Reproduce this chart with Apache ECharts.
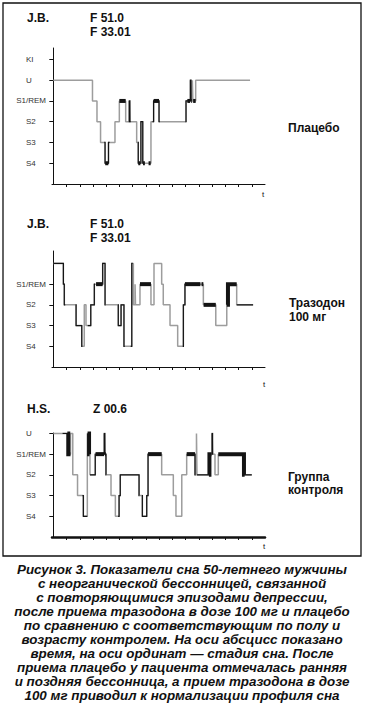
<!DOCTYPE html>
<html><head><meta charset="utf-8">
<script src="https://cdn.jsdelivr.net/npm/echarts@6/dist/echarts.min.js"></script>
<style>html,body{margin:0;padding:0;background:#fff}#c{width:365px;height:708px}</style>
</head><body><div id="c"></div>
<script>
// ---- axis labels / ticks ----
const stageLabels = ['', 'S4', 'S3', 'S2', 'S1/REM', 'U', 'KI'];
const xTicks = [1,2,3,4,5,6,7,8,9,10,11,12,13,14,15];
const p1YTicks = [1,2,3,4,5,6];
const p2YTicks = [1,2,3,4];
const p3YTicks = [1,2,3,4,5];

// ---- panel 1: J.B., placebo (stage transitions: time, stage) ----
const p1Times  = [0, 2.96, 3.30, 3.57, 3.91, 4.17, 4.66, 4.99, 5.47, 5.74, 5.79, 6.30, 6.42, 6.62, 6.76, 7.38, 7.58, 7.99, 10.03, 10.36, 10.41, 10.51, 10.55, 10.76];
const p1Stages = [5,    4,    3,    2,    1,    2,    3,    4,    3,    4,    3,    2,    1,    3,    1,    3,    4,    3,     4,     5,     4,     5,     4,     5];
const p1End = 14.87;
const p1ThickFrom = [3.92, 4.99, 6.42, 6.78, 7.20, 7.58, 10.13, 10.43, 10.57];
const p1ThickTo   = [4.16, 5.47, 6.58, 6.92, 7.36, 7.99, 10.34, 10.49, 10.76];
const p1BlackFrom = [3.85, 5.70, 6.38, 7.50, 9.98];
const p1BlackTo   = [4.25, 5.85, 6.80, 8.05, 10.45];

// ---- panel 2: J.B., trazodone 100 mg ----
const p2Times  = [0, 0.76, 0.83, 1.72, 2.15, 2.34, 2.47, 2.83, 3.10, 3.73, 3.91, 4.91, 5.12, 5.34, 5.93, 6.05, 6.18, 6.21, 6.55, 7.38, 7.61, 8.19, 8.31, 8.82, 9.40, 9.83, 9.95, 11.34, 12.28, 13.11, 13.20, 13.86];
const p2Stages = [5,    4,    3,    2,    1,    3,    2,    3,    4,    5,    3,    2,    3,    1,    5,    3,    4,    3,    4,    3,    5,    4,    3,    2,    1,    3,    4,     3,     2,     3,     4,     3];
const p2End = 15.1;
const p2ThickFrom = [3.23, 6.55, 9.95, 11.20, 11.36, 13.11];
const p2ThickTo   = [3.73, 7.38, 11.12, 11.34, 12.28, 13.86];
const p2BlackFrom = [0, 1.68, 2.60, 3.70, 4.88, 5.85, 9.78, 13.86];
const p2BlackTo   = [0.90, 2.20, 3.15, 3.95, 5.40, 6.00, 10.00, 15.10];

// ---- panel 3: H.S., control ----
const p3Times  = [0, 1.13, 1.30, 1.47, 1.83, 2.27, 2.57, 2.70, 2.77, 3.17, 3.85, 3.90, 3.98, 4.36, 4.69, 4.97, 5.06, 6.48, 6.73, 7.06, 7.16, 8.19, 9.07, 9.27, 9.71, 10.08, 10.71, 10.82, 10.86, 11.80, 12.00, 12.04, 12.22, 12.47, 14.41];
const p3Stages = [5,    4,    5,    3,    2,    1,    5,    4,    3,    4,    5,    4,    3,    2,    1,    2,    3,    2,    1,    2,    4,    3,    2,    1,    3,     4,     3,     5,     3,     4,     5,     4,     3,     4,     3];
const p3End = 15.0;
const p3ThickFrom = [1.06, 2.59, 3.19, 3.91, 7.16, 10.08, 11.76, 12.47];
const p3ThickTo   = [1.30, 2.74, 3.84, 3.97, 8.19, 10.71, 11.97, 14.46];
const p3BlackFrom = [0.70, 2.20, 2.77, 3.80, 4.90, 6.70, 10.60, 10.86, 11.97, 14.40];
const p3BlackTo   = [1.13, 2.57, 3.20, 4.00, 6.50, 7.20, 10.75, 11.80, 12.06, 15.00];

// ---- helpers: build step paths from the transitions ----
function stepPath(T, S, end) {
  const pts = [];
  for (let i = 0; i < T.length; i++) {
    const next = i + 1 < T.length ? T[i + 1] : end;
    pts.push([T[i], S[i]], [next, S[i]]);
  }
  return pts;
}
function stageAfter(T, S, t) {
  let s = S[0];
  for (let i = 0; i < T.length; i++) if (T[i] <= t) s = S[i];
  return s;
}
function stageBefore(T, S, t) {
  let s = S[0];
  for (let i = 0; i < T.length; i++) if (T[i] < t) s = S[i];
  return s;
}
// one polyline per interval, following the step path between a and b
function overlay(T, S, from, to) {
  const out = [];
  for (let k = 0; k < from.length; k++) {
    const a = from[k], b = to[k];
    const c = [[a, stageAfter(T, S, a)]];
    for (let i = 1; i < T.length; i++) {
      if (T[i] > a && T[i] < b) c.push([T[i], S[i - 1]], [T[i], S[i]]);
    }
    c.push([b, stageBefore(T, S, b)]);
    out.push({coords: c});
  }
  return out;
}

const GRAY = '#9d9d9d', BLACK = '#141414';
const panels = [
  {T: p1Times, S: p1Stages, end: p1End, tf: p1ThickFrom, tt: p1ThickTo, bf: p1BlackFrom, bt: p1BlackTo,
   top: 48, height: 136, ymax: 6.55, yticks: p1YTicks, xw: 1},
  {T: p2Times, S: p2Stages, end: p2End, tf: p2ThickFrom, tt: p2ThickTo, bf: p2BlackFrom, bt: p2BlackTo,
   top: 251, height: 116, ymax: 5.6, yticks: p2YTicks, xw: 1},
  {T: p3Times, S: p3Stages, end: p3End, tf: p3ThickFrom, tt: p3ThickTo, bf: p3BlackFrom, bt: p3BlackTo,
   top: 433, height: 104, ymax: 5.02, yticks: p3YTicks, xw: 2.5}
];

const grid = [], xAxis = [], yAxis = [], series = [];
panels.forEach((p, i) => {
  grid.push({left: 52, top: p.top, width: 213, height: p.height});
  xAxis.push({
    type: 'value', gridIndex: i, min: -0.1, max: 16,
    axisLine: {lineStyle: {color: '#111', width: p.xw}},
    axisTick: {show: true, length: 3, customValues: xTicks, lineStyle: {color: '#111'}},
    axisLabel: {show: false}, splitLine: {show: false}
  });
  yAxis.push({
    type: 'value', gridIndex: i, min: 0, max: p.ymax,
    axisLine: {show: true, lineStyle: {color: '#111', width: 1}},
    axisTick: {show: true, length: 4, customValues: p.yticks, lineStyle: {color: '#111'}},
    axisLabel: {
      show: true, customValues: p.yticks, margin: 6, align: 'right',
      formatter: v => { const l = stageLabels[v]; return l.length > 3 ? '{w|' + l + '}' : '{s|' + l + '}'; },
      rich: {
        s: {width: 20, align: 'left', fontSize: 8, fontFamily: '"Liberation Sans", Arial', color: '#333'},
        w: {fontSize: 8, fontFamily: '"Liberation Sans", Arial', color: '#333'}
      }
    },
    splitLine: {show: false}
  });
  series.push({type: 'line', xAxisIndex: i, yAxisIndex: i, symbol: 'none', silent: true, clip: false, animation: false,
    data: stepPath(p.T, p.S, p.end), lineStyle: {color: GRAY, width: 1.5}, z: 2});
  series.push({type: 'lines', coordinateSystem: 'cartesian2d', xAxisIndex: i, yAxisIndex: i, polyline: true, silent: true, animation: false,
    data: overlay(p.T, p.S, p.bf, p.bt), lineStyle: {color: BLACK, width: 1.2, opacity: 1}, z: 3});
  series.push({type: 'lines', coordinateSystem: 'cartesian2d', xAxisIndex: i, yAxisIndex: i, polyline: true, silent: true, animation: false,
    data: overlay(p.T, p.S, p.tf, p.tt), lineStyle: {color: BLACK, width: 4, opacity: 1, cap: 'butt', join: 'miter'}, z: 4});
});

const boldF = 'bold 12px "Liberation Sans", Arial, sans-serif';
const smallF = '8px "Liberation Sans", Arial, sans-serif';
const capF = 'italic bold 13.4px "Liberation Sans", Arial, sans-serif';
function txt(text, x, y, font, align, lh) {
  const st = {text, x, y, font, fill: '#111', align: align || 'left', verticalAlign: 'middle'};
  if (lh) st.lineHeight = lh;
  return {type: 'text', silent: true, z: 10, style: st};
}
const captionLines = [
  'Рисунок 3. Показатели сна 50-летнего мужчины',
  'с неорганической бессонницей, связанной',
  'с повторяющимися эпизодами депрессии,',
  'после приема тразодона в дозе 100 мг и плацебо',
  'по сравнению с соответствующим по полу и',
  'возрасту контролем. На оси абсцисс показано',
  'время, на оси ординат — стадия сна. После',
  'приема плацебо у пациента отмечалась ранняя',
  'и поздняя бессонница, а прием тразодона в дозе',
  '100 мг приводил к нормализации профиля сна'
];
const graphic = [
  {type: 'rect', silent: true, z: 1, shape: {x: 3, y: 3, width: 358, height: 553}, style: {fill: 'none', stroke: '#111', lineWidth: 1.3}},
  txt('J.B.', 27, 17.5, boldF), txt('F 51.0', 90, 17.5, boldF), txt('F 33.01', 90, 32, boldF),
  txt('Плацебо', 288, 127.5, boldF),
  txt('J.B.', 27, 224, boldF), txt('F 51.0', 90, 224, boldF), txt('F 33.01', 90, 237.5, boldF),
  txt('Тразодон', 289, 303, boldF), txt('100 мг', 289, 317, boldF),
  txt('H.S.', 27, 408.5, boldF), txt('Z 00.6', 93, 408.5, boldF),
  txt('Группа', 288, 476.5, boldF), txt('контроля', 288, 490, boldF),
  txt('t', 262, 194, smallF), txt('t', 263, 384, smallF), txt('t', 263, 546, smallF)
];
captionLines.forEach((l, k) => graphic.push(txt(l, 182, 569 + k * 14.1, capF, 'center', 14)));

const chart = echarts.init(document.getElementById('c'), null, {renderer: 'svg', width: 365, height: 708});
chart.setOption({animation: false, backgroundColor: '#fff', grid, xAxis, yAxis, series, graphic});
</script></body></html>
